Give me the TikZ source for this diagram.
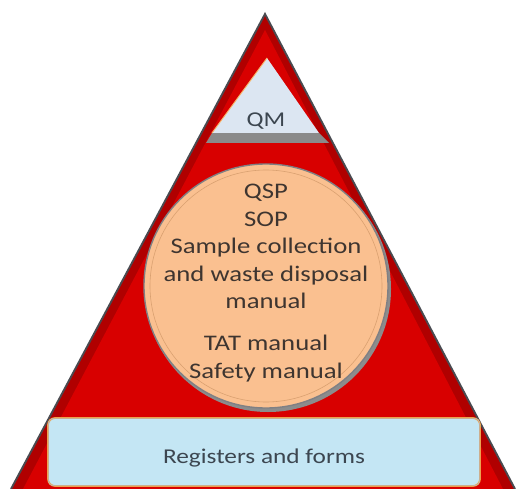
\documentclass[tikz,border=0pt]{standalone}
\usepackage{fontspec}
\setmainfont{Carlito}[FakeStretch=1.2]
\usetikzlibrary{positioning}

\definecolor{pyramidred}{HTML}{D80000}
\definecolor{pyramiddark}{HTML}{B00000}
\definecolor{edgegrey}{HTML}{4A4A50}
\definecolor{qmblue}{HTML}{DCE6F2}
\definecolor{qmshadow}{HTML}{8A8A8A}
\definecolor{peach}{HTML}{FAC090}
\definecolor{peachrim}{HTML}{D9A070}
\definecolor{formblue}{HTML}{C4E6F4}
\definecolor{formedge}{HTML}{F5A040}
\definecolor{textdark}{HTML}{3E3530}
\definecolor{textblue}{HTML}{3C4650}

\tikzset{
    level text/.style={text=textdark, font=\fontsize{19}{23.5}\selectfont, align=center, inner sep=0pt},
    form text/.style={text=textblue, font=\fontsize{18}{24}\selectfont, inner sep=0pt}
}

\begin{document}
\begin{tikzpicture}[x=0.03cm, y=-0.03cm]
    \useasboundingbox (0,0) rectangle (516,489);

    % pyramid
    \fill[pyramiddark] (11,489) -- (265,14) -- (515,489) -- cycle;
    \draw[edgegrey, line width=1.6pt] (11,489) -- (265,14) -- (515,489);
    \fill[pyramidred] (23,489) -- (265,30) -- (503,489) -- cycle;

    % top level
    \fill[qmshadow] (206,143) -- (212,133) -- (319,133) -- (329,143) -- cycle;
    \fill[qmblue] (212,133) -- (267,58) -- (319,133) -- cycle;
    \draw[formedge!80, line width=0.8pt] (212,133) -- (267,58);
    \node[form text] (qm) at (266,121) {QM};

    % middle level
    \fill[black!45] (268,289) circle (123);
    \node[circle, fill=peach, draw=edgegrey!70, line width=1.2pt,
        minimum size=7.32cm] (procedures) at (266,286) {};
    \draw[peachrim, line width=0.5pt] (procedures.center) circle (116);
    \node[level text] (procedures text) at (266,283) {QSP\\SOP\\Sample collection\\and waste disposal\\manual\\[12pt]TAT manual\\Safety manual};

    % bottom level
    \node[draw=formedge, line width=1.5pt, fill=formblue, rounded corners=6pt,
        minimum width=12.96cm, minimum height=2.04cm] (registers) at (264,452) {};
    \draw[edgegrey!40, line width=0.6pt, rounded corners=5pt]
        ([shift={(1pt,-1pt)}]registers.north west) rectangle ([shift={(-1pt,1pt)}]registers.south east);
    \node[form text] (registers text) at (264,458) {Registers and forms};
\end{tikzpicture}
\end{document}
